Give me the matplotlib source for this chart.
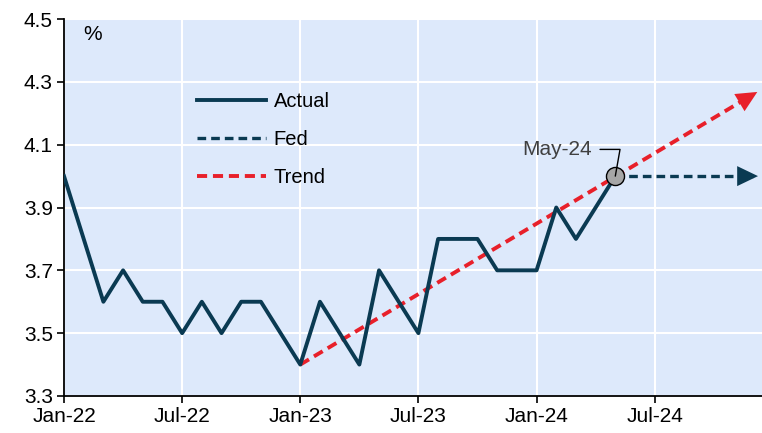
import numpy as np
import matplotlib.pyplot as plt
import matplotlib.transforms as mtransforms

plt.rcParams['font.family'] = ['Liberation Sans', 'DejaVu Sans']

# Unemployment rate, monthly from Jan-22 (index 0) to May-24 (index 28)
actual = [4.0, 3.8, 3.6, 3.7, 3.6, 3.6, 3.5, 3.6, 3.5, 3.6, 3.6, 3.5,
          3.4, 3.6, 3.5, 3.4, 3.7, 3.6, 3.5, 3.8, 3.8, 3.8, 3.7, 3.7,
          3.7, 3.9, 3.8, 3.9, 4.0]
months = list(range(len(actual)))

# Projections (month index, %)
fed_x = [28, 35]
fed_y = [4.0, 4.0]
trend_x = [12, 35]
trend_y = [3.4, 4.26]

tick_pos = [0, 6, 12, 18, 24, 30]
tick_labels = ['Jan-22', 'Jul-22', 'Jan-23', 'Jul-23', 'Jan-24', 'Jul-24']
y_ticks = [3.3, 3.5, 3.7, 3.9, 4.1, 4.3, 4.5]

navy = '#0a3a52'
red = '#e8202a'

fig = plt.figure(figsize=(7.62, 4.33), dpi=100)
ax = fig.add_axes([0.084, 0.0855, 0.916, 0.8705])
ax.set_facecolor('#dde9fb')
ax.set_xlim(0, 35.45)
ax.set_ylim(3.3, 4.5)

ax.plot(months, actual, color=navy, lw=2.8, label='Actual', zorder=4)
ax.plot(fed_x, fed_y, color=navy, lw=2.4, ls=(0, (2.6, 1.5)), label='Fed', zorder=3)
ax.plot(trend_x, trend_y, color=red, lw=2.8, ls=(0, (2.6, 1.5)), label='Trend', zorder=3)

# arrow heads: tip pushed a few points past the line end so the dash doesn't poke out
for xs, ys, c in [(fed_x, fed_y, navy), (trend_x, trend_y, red)]:
    frac = 2.0 / (xs[1] - xs[0])
    fx = xs[1] - (xs[1] - xs[0]) * frac
    fy = ys[1] - (ys[1] - ys[0]) * frac
    d = ax.transData.transform((xs[1], ys[1])) - ax.transData.transform((fx, fy))
    u = d / np.hypot(*d)
    tr = mtransforms.offset_copy(ax.transData, fig=fig, x=u[0] * 3.5,
                                 y=u[1] * 3.5, units='points')
    ax.annotate('', xy=(xs[1], ys[1]), xytext=(fx, fy),
                xycoords=tr, textcoords=tr,
                arrowprops=dict(arrowstyle='-|>,head_length=0.5,head_width=0.24',
                                color=c, lw=0, mutation_scale=30,
                                shrinkA=0, shrinkB=0),
                zorder=5)

# May-24 marker and label
ax.plot(months[-1], actual[-1], 'o', ms=13, mfc='#a6a6a6', mec='black',
        mew=1.0, zorder=6)
ax.annotate('May-24', xy=(months[-1], actual[-1]), xytext=(26.8, 4.085),
            ha='right', va='center', fontsize=15, color='#404040',
            arrowprops=dict(arrowstyle='-', color='black', lw=1.0,
                            connectionstyle='angle,angleA=0,angleB=80',
                            shrinkA=4, shrinkB=0),
            zorder=6)

ax.text(0.028, 0.985, '%', transform=ax.transAxes, fontsize=15, va='top')

ax.set_xticks(tick_pos)
ax.set_xticklabels(tick_labels)
ax.set_yticks(y_ticks)
ax.set_yticklabels([f'{v:.1f}' for v in y_ticks])
ax.tick_params(labelsize=15, direction='out', length=5, width=1.2, pad=3)

ax.grid(True, color='white', lw=1.5)
ax.set_axisbelow(True)
for s in ['top', 'right']:
    ax.spines[s].set_visible(False)
for s in ['left', 'bottom']:
    ax.spines[s].set_linewidth(1.3)

ax.legend(loc='upper left', bbox_to_anchor=(0.165, 0.855), frameon=False,
          fontsize=14.5, handlelength=3.4, labelspacing=0.95,
          handletextpad=0.4)

fig.savefig('out.png', dpi=100)
